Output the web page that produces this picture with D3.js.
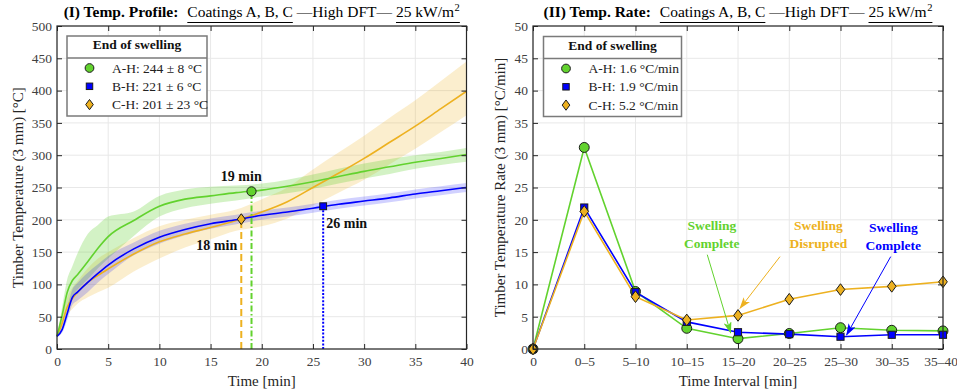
<!DOCTYPE html>
<html><head><meta charset="utf-8">
<script src="https://cdn.jsdelivr.net/npm/d3@7"></script>
<style>
body{margin:0;background:#fff;}
svg{display:block;font-family:"Liberation Serif",serif;}
</style></head><body>
<svg id="c" width="957" height="392"></svg>
<script>
// ---------------- DATA ----------------
const timeGrid = [0,0.5,1,1.5,2,3,4,5,7.5,10,12.5,15,17.5,20,22.5,25,27.5,30,32.5,35,37.5,40];
const tempA  = [19.5,52,88,106,115,135,156,174,199,221,232,237,242,246,252,259,267,275,282,289,295,301];
const tempAlo= [19,35,65,82,92,108,125,140,175,205,218,225,230,236,241,248,256,264,271,279,285,290];
const tempAhi= [20,65,108,128,148,178,192,205,213,237,247,251,253,256,262,270,279,287,294,300,305,311];
const tempB  = [19.5,30,55,80,88,103,117,130,155,173,185,194,200,207,212,218,224,229,234,240,245,250];
const tempBlo= [19,25,45,68,75,88,103,116,145,163,176,186,193,200,205,211,217,222,227,233,238,243];
const tempBhi= [20,35,65,92,102,118,131,144,165,183,194,202,208,214,219,225,231,236,241,247,252,257];
const tempC  = [19.5,40,65,78,88,103,114,124,147,166,178,188,199,212,228,250,272,295,320,345,372,399];
const tempClo= [19,32,52,62,70,80,88,95,120,140,157,170,183,190,202,222,242,262,286,310,336,362];
const tempChi= [20,50,80,95,105,125,140,150,172,190,200,208,216,232,250,278,304,330,358,385,415,445];

const swellEndTime = [19,26,18];        // A, B, C
const swellEndTemp = [244,221,201];
const swellEndLabel = ["19 min","26 min","18 min"];

const rateCats = ["0","0–5","5–10","10–15","15–20","20–25","25–30","30–35","35–40"];
const rateA = [0,31.2,8.9,3.2,1.6,2.4,3.3,2.9,2.8];
const rateB = [0,21.9,8.8,4.2,2.6,2.3,1.9,2.2,2.2];
const rateC = [0,21.3,8.1,4.5,5.2,7.7,9.2,9.7,10.4];

const xTicksL = [0,5,10,15,20,25,30,35,40];
const yTicksL = [0,50,100,150,200,250,300,350,400,450,500];
const yTicksR = [0,5,10,15,20,25,30,35,40,45,50];

const legendTitle = "End of swelling";
const legendL = ["A-H: 244 ± 8 °C","B-H: 221 ± 6 °C","C-H: 201 ± 23 °C"];
const legendR = ["A-H: 1.6 °C/min","B-H: 1.9 °C/min","C-H: 5.2 °C/min"];

// ---------------- STYLE ----------------
const colA = "#62d22e", colB = "#0000ff", colC = "#edb120";
const markers = ["circle","square","diamond"];
const cols = [colA,colB,colC];

const svg = d3.select("#c");
const TOP = 26, BOT = 349;

const defs = svg.append("defs");
cols.forEach((c,i)=>{
  defs.append("marker").attr("id","ah"+i).attr("markerUnits","userSpaceOnUse")
    .attr("viewBox","0 0 12 8").attr("refX",11).attr("refY",4)
    .attr("markerWidth",12).attr("markerHeight",8).attr("orient","auto")
    .append("path").attr("d","M0,0 L12,4 L0,8 L3,4 z").attr("fill",c);
});

function drawMarker(g, type, x, y, color, s){
  s = s||1;
  if(type==="circle"){
    g.append("circle").attr("cx",x).attr("cy",y).attr("r",4.6*s)
      .attr("fill",color).attr("stroke","#1a1a1a").attr("stroke-width",1);
  } else if(type==="square"){
    const h=3.4*s;
    g.append("rect").attr("x",x-h).attr("y",y-h).attr("width",2*h).attr("height",2*h)
      .attr("fill",color).attr("stroke","#1a1a1a").attr("stroke-width",1);
  } else {
    const w=4*s, h=5.4*s;
    g.append("path").attr("d",`M${x},${y-h}L${x+w},${y}L${x},${y+h}L${x-w},${y}Z`)
      .attr("fill",color).attr("stroke","#1a1a1a").attr("stroke-width",1);
  }
}

function drawTitle(cx, baseline, label){
  const g = svg.append("g");
  let x = 0;
  const fs = 15.5;
  const parts = [
    {t:label, b:true, gap:0},
    {t:"Coatings A, B, C", ul:true, gap:9},
    {t:"—High DFT—", gap:4},
    {t:"25 kW/m", ul:true, gap:4, sup:"2"}
  ];
  const uls=[];
  parts.forEach(p=>{
    x += p.gap;
    const t = g.append("text").attr("x",x).attr("y",baseline).attr("font-size",fs)
      .attr("font-weight",p.b?"bold":"normal").attr("fill","#000").text(p.t);
    const start = x;
    x += t.node().getComputedTextLength();
    if(p.sup){
      const s = g.append("text").attr("x",x+0.5).attr("y",baseline-6).attr("font-size",10.5).text(p.sup);
      x += s.node().getComputedTextLength()+0.5;
    }
    if(p.ul) uls.push([start,x]);
  });
  uls.forEach(u=>g.append("line").attr("x1",u[0]).attr("x2",u[1])
    .attr("y1",baseline+5.5).attr("y2",baseline+5.5).attr("stroke","#000").attr("stroke-width",1.2));
  g.attr("transform",`translate(${cx - x/2},0)`);
}

function drawFrameAxes(g, x, y, xt, yt, xfmt){
  const ax = [
    [d3.axisBottom(x).tickValues(xt).tickFormat(xfmt), `translate(0,${BOT})`, 7, true],
    [d3.axisTop(x).tickValues(xt).tickFormat(""), `translate(0,${TOP})`, 0, false],
    [d3.axisLeft(y).tickValues(yt), `translate(${x.range()[0]},0)`, 5, true],
    [d3.axisRight(y).tickValues(yt).tickFormat(""), `translate(${x.range()[1]},0)`, 0, false]
  ];
  const out = [];
  ax.forEach(a=>{
    const ag = g.append("g").attr("transform",a[1])
      .call(a[0].tickSize(-5).tickSizeOuter(0).tickPadding(a[2]));
    ag.select(".domain").remove();
    ag.attr("font-family",null).attr("font-size",13.5);
    ag.selectAll("line").attr("stroke","#262626");
    ag.selectAll("text").attr("fill","#404040");
    out.push(ag);
  });
  g.append("rect").attr("x",x.range()[0]).attr("y",TOP)
    .attr("width",x.range()[1]-x.range()[0]).attr("height",BOT-TOP)
    .attr("fill","none").attr("stroke","#262626").attr("stroke-width",1.2);
  return out;
}

function drawGrid(g,x,y,xt,yt){
  xt.forEach(v=>g.append("line").attr("x1",x(v)).attr("x2",x(v)).attr("y1",TOP).attr("y2",BOT)
    .attr("stroke","#e8e8e8").attr("stroke-width",1));
  yt.forEach(v=>g.append("line").attr("y1",y(v)).attr("y2",y(v)).attr("x1",x.range()[0]).attr("x2",x.range()[1])
    .attr("stroke","#e8e8e8").attr("stroke-width",1));
}

function drawLegend(g, x0, y0, w, h, labels){
  g.append("rect").attr("x",x0).attr("y",y0).attr("width",w).attr("height",h)
    .attr("fill","#fff").attr("stroke","#7a7a7a").attr("stroke-width",1.5);
  g.append("text").attr("x",x0+w/2).attr("y",y0+13).attr("text-anchor","middle")
    .attr("font-size",13.5).attr("font-weight","bold").attr("fill","#111").text(legendTitle);
  g.append("line").attr("x1",x0).attr("x2",x0+w).attr("y1",y0+22).attr("y2",y0+22)
    .attr("stroke","#7a7a7a").attr("stroke-width",1.3);
  labels.forEach((l,i)=>{
    const cy = y0+32+i*18.3;
    drawMarker(g, markers[i], x0+22.5, cy, cols[i], 0.95);
    g.append("text").attr("x",x0+45).attr("y",cy+4.5).attr("font-size",13.5)
      .attr("fill","#222").text(l);
  });
}

// ---------------- LEFT PANEL ----------------
{
  const g = svg.append("g");
  const x = d3.scaleLinear([0,40],[57,466.5]);
  const y = d3.scaleLinear([0,500],[BOT,TOP]);
  drawGrid(g,x,y,xTicksL,yTicksL);
  const bands = [[tempClo,tempChi,colC,0.22],[tempAlo,tempAhi,colA,0.28],[tempBlo,tempBhi,colB,0.18]];
  bands.forEach(b=>{
    const area = d3.area().x((d,i)=>x(timeGrid[i])).y0((d,i)=>y(b[0][i])).y1((d,i)=>y(b[1][i])).curve(d3.curveMonotoneX);
    g.append("path").attr("d",area(timeGrid)).attr("fill",b[2]).attr("fill-opacity",b[3]);
  });
  [[tempC,colC],[tempA,colA],[tempB,colB]].forEach(s=>{
    const line = d3.line().x((d,i)=>x(timeGrid[i])).y(d=>y(d)).curve(d3.curveMonotoneX);
    g.append("path").attr("d",line(s[0])).attr("fill","none").attr("stroke",s[1]).attr("stroke-width",1.6);
  });
  const dashes = ["6,2.5,1.5,2.5","2,1.6","7,4"];
  [2,0,1].forEach(i=>{
    g.append("line").attr("x1",x(swellEndTime[i])).attr("x2",x(swellEndTime[i]))
      .attr("y1",BOT).attr("y2",y(swellEndTemp[i]))
      .attr("stroke",cols[i]).attr("stroke-width",2).attr("stroke-dasharray",dashes[i]);
  });
  [2,0,1].forEach(i=>drawMarker(g, markers[i], x(swellEndTime[i]), y(swellEndTemp[i]), cols[i], 1));
  const lab = [
    [swellEndLabel[0], x(18.0), y(260.5), "middle"],
    [swellEndLabel[1], x(26.3), y(187), "start"],
    [swellEndLabel[2], x(17.6), y(152.5), "end"]
  ];
  lab.forEach(l=>g.append("text").attr("x",l[1]).attr("y",l[2]).attr("text-anchor",l[3])
    .attr("font-size",14).attr("font-weight","bold").attr("fill","#111").text(l[0]));
  drawFrameAxes(g,x,y,xTicksL,yTicksL,d3.format("d"));
  drawLegend(g,67,36,140,80,legendL);
  g.append("text").attr("x",(57+466.5)/2).attr("y",386).attr("text-anchor","middle")
    .attr("font-size",15).attr("fill","#262626").text("Time [min]");
  g.append("text").attr("transform",`translate(23,${(TOP+BOT)/2}) rotate(-90)`).attr("text-anchor","middle")
    .attr("font-size",15).attr("fill","#262626").text("Timber Temperature (3 mm) [°C]");
  drawTitle((57+466.5)/2, 17, "(I) Temp. Profile:");
}

// ---------------- RIGHT PANEL ----------------
{
  const g = svg.append("g");
  const x = d3.scaleLinear([0,8],[533,943]);
  const y = d3.scaleLinear([0,50],[BOT,TOP]);
  const idx = d3.range(rateCats.length);
  drawGrid(g,x,y,idx,yTicksR);
  const series = [rateA,rateB,rateC];
  series.forEach((s,k)=>{
    const line = d3.line().x((d,i)=>x(i)).y(d=>y(d));
    g.append("path").attr("d",line(s)).attr("fill","none").attr("stroke",cols[k]).attr("stroke-width",1.6);
  });
  series.forEach((s,k)=>s.forEach((v,i)=>drawMarker(g, markers[k], x(i), y(v), cols[k], k===1?1.05:1.08)));
  const ann = [
    {c:0, tx:3.49, t1:"Swelling", t2:"Complete", yb:18.4, from:[3.40,14.6], to:[3.857,2.5]},
    {c:2, tx:5.57, t1:"Swelling", t2:"Disrupted", yb:18.4, from:[4.82,14.3], to:[4.04,6.3]},
    {c:1, tx:7.03, t1:"Swelling", t2:"Complete", yb:18.1, from:[6.98,14.3], to:[6.12,2.2]}
  ];
  ann.forEach(a=>{
    g.append("text").attr("x",x(a.tx)).attr("y",y(a.yb)).attr("text-anchor","middle")
      .attr("font-size",13.5).attr("font-weight","bold").attr("fill",cols[a.c]).text(a.t1);
    g.append("text").attr("x",x(a.tx)).attr("y",y(a.yb)+17.5).attr("text-anchor","middle")
      .attr("font-size",13.5).attr("font-weight","bold").attr("fill",cols[a.c]).text(a.t2);
    g.append("line").attr("x1",x(a.from[0])).attr("y1",y(a.from[1]))
      .attr("x2",x(a.to[0])).attr("y2",y(a.to[1]))
      .attr("stroke",cols[a.c]).attr("stroke-width",1).attr("marker-end",`url(#ah${a.c})`);
  });
  const axes = drawFrameAxes(g,x,y,idx,yTicksR,i=>rateCats[i]);
  // keep the last category label inside the picture
  axes[0].selectAll(".tick text").filter((d,i,n)=>i===n.length-1).attr("dx",-2.5);
  drawLegend(g,543.5,36.5,138,80,legendR);
  g.append("text").attr("x",(533+943)/2).attr("y",386).attr("text-anchor","middle")
    .attr("font-size",15).attr("fill","#262626").text("Time Interval [min]");
  g.append("text").attr("transform",`translate(505,${(TOP+BOT)/2}) rotate(-90)`).attr("text-anchor","middle")
    .attr("font-size",15).attr("fill","#262626").text("Timber Temperature Rate (3 mm) [°C/min]");
  drawTitle((533+943)/2, 17, "(II) Temp. Rate:");
}
</script></body></html>
